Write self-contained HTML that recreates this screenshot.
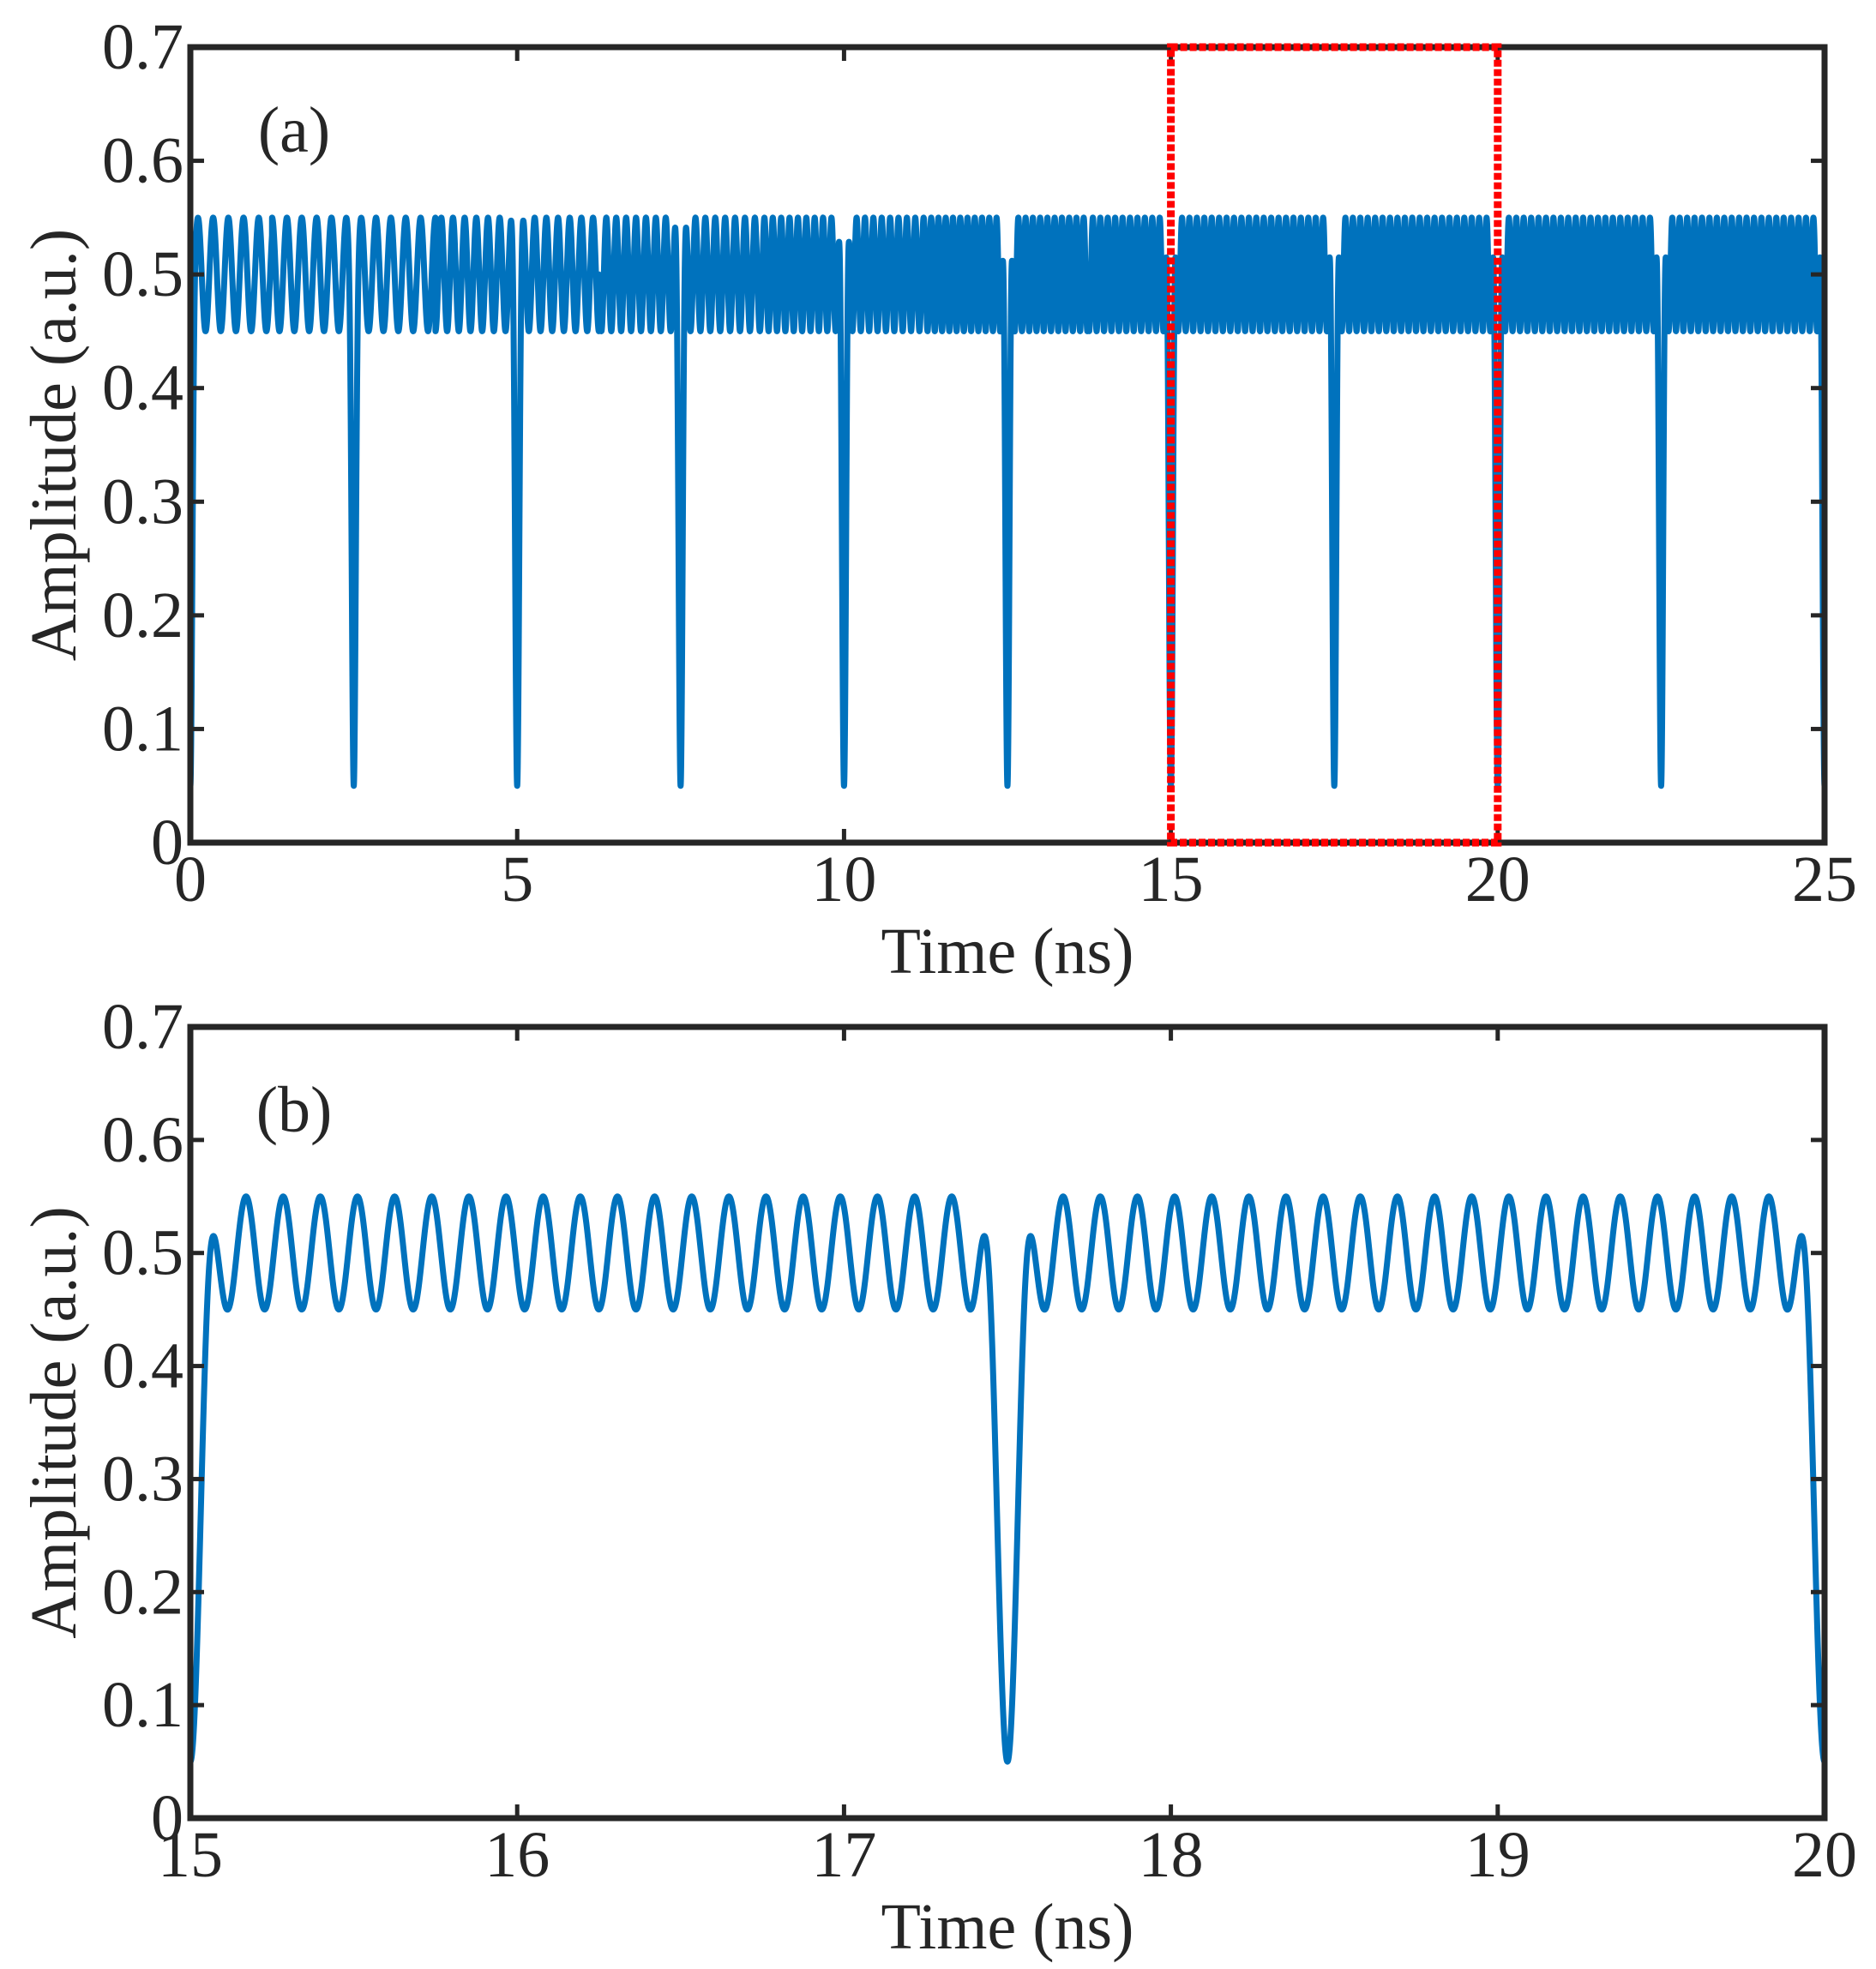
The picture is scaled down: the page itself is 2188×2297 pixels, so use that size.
<!DOCTYPE html>
<html><head><meta charset="utf-8"><style>
html,body{margin:0;padding:0;background:#fff}
svg{display:block}
text{font-family:"Liberation Serif","Times New Roman","Nimbus Roman","DejaVu Serif",serif;fill:#262626}
</style></head><body>
<svg id="fig" width="2188" height="2297" viewBox="0 0 2188 2297" xmlns="http://www.w3.org/2000/svg" font-family="Liberation Serif, Times New Roman, serif">
<rect width="2188" height="2297" fill="#fff"/>
</svg>
<script>
// ---- data ----
const yTicks = [0, 0.1, 0.2, 0.3, 0.4, 0.5, 0.6, 0.7];
const yTickLabels = ['0', '0.1', '0.2', '0.3', '0.4', '0.5', '0.6', '0.7'];
const xTicksA = [0, 5, 10, 15, 20, 25];
const xTicksB = [15, 16, 17, 18, 19, 20];
const dipTimes = [0, 2.5, 5, 7.5, 10, 12.5, 15, 17.5, 20, 22.5, 25];
const dipMin = 0.05;
const oscMean = 0.5;
const oscAmp = 0.05;
// apparent oscillation frequency (GHz) per 2.5 ns segment as seen in panel (a)
const segFreqA = [4.3, 4.4, 5.6, 6.6, 7.8, 9.0, 8.8, 8.8, 8.8, 8.8, 8.8];
const freqB = 8.8;
const zoomBox = [15, 20, 0, 0.7];

const NS = 'http://www.w3.org/2000/svg';
const svg = document.getElementById('fig');
function mk(tag, attrs, parent) {
  const e = document.createElementNS(NS, tag);
  for (const k in attrs) e.setAttribute(k, attrs[k]);
  (parent || svg).appendChild(e);
  return e;
}
function signal(t, f) {
  let nd = dipTimes[0];
  for (const d of dipTimes) if (Math.abs(t - d) < Math.abs(t - nd)) nd = d;
  const osc = oscMean - oscAmp * Math.cos(2 * Math.PI * f * (t - nd));
  const w = 0.04;
  const g = Math.exp(-Math.pow((t - nd) / w, 2));
  return osc * (1 - (1 - dipMin / (oscMean - oscAmp)) * g);
}
function panel(cfg) {
  const g = mk('g', {});
  
  
  const L = 222, R = 2128, T = cfg.top, B = cfg.bottom;
  const xs = v => L + (v - cfg.x0) / (cfg.x1 - cfg.x0) * (R - L);
  const ys = v => B - (v - 0) / 0.7 * (B - T);
  const pts = [];
  const N = cfg.samples;
  for (let i = 0; i <= N; i++) {
    const t = cfg.x0 + (cfg.x1 - cfg.x0) * i / N;
    const f = cfg.freq(t);
    pts.push(xs(t).toFixed(2) + ',' + ys(signal(t, f)).toFixed(2));
  }
  const clip = mk('clipPath', { id: cfg.name + '-clip' }, g);
  mk('rect', { x: L, y: T - 4, width: R - L, height: B - T + 8 }, clip);
  const line = mk('polyline', { points: pts.join(' '), fill: 'none', stroke: '#0072BD', 'stroke-width': 7, 'stroke-linejoin': 'round', 'clip-path': 'url(#' + cfg.name + '-clip)' }, g);
  
  
  for (const v of yTicks) {
    const y = ys(v);
    mk('line', { x1: L, x2: L + 16, y1: y, y2: y, stroke: '#262626', 'stroke-width': 5 }, g);
    mk('line', { x1: R, x2: R - 16, y1: y, y2: y, stroke: '#262626', 'stroke-width': 5 }, g);
  }
  cfg.xticks.forEach(v => {
    const x = xs(v);
    mk('line', { x1: x, x2: x, y1: B, y2: B - 16, stroke: '#262626', 'stroke-width': 5 }, g);
    mk('line', { x1: x, x2: x, y1: T, y2: T + 16, stroke: '#262626', 'stroke-width': 5 }, g);
  });
  const fr = mk('rect', { x: L, y: T, width: R - L, height: B - T, fill: 'none', stroke: '#262626', 'stroke-width': 7 }, g);
  
  
  if (cfg.box) {
    const bx = mk('rect', { x: xs(zoomBox[0]), y: ys(zoomBox[3]), width: xs(zoomBox[1]) - xs(zoomBox[0]), height: ys(zoomBox[2]) - ys(zoomBox[3]), fill: 'none', stroke: '#FF0000', 'stroke-width': 9, 'stroke-dasharray': '8 3', 'stroke-linecap': 'butt' }, g);
    
    
  }
  yTicks.forEach((v, i) => {
    const t = mk('text', { x: 214, y: ys(v) + 25, 'font-size': 76, 'text-anchor': 'end' }, g);
    t.textContent = yTickLabels[i];
    
    
  });
  cfg.xticks.forEach(v => {
    const t = mk('text', { x: xs(v), y: B + 68, 'font-size': 76, 'text-anchor': 'middle' }, g);
    t.textContent = String(v);
    
    
  });
  const xl = mk('text', { x: (L + R) / 2, y: B + 152, 'font-size': 76, 'text-anchor': 'middle' }, g);
  xl.textContent = 'Time (ns)';
  
  
  const cy = (T + B) / 2;
  const yl = mk('text', { x: 0, y: 0, 'font-size': 76, 'text-anchor': 'middle', transform: 'translate(88,' + cy + ') rotate(-90)' }, g);
  yl.textContent = 'Amplitude (a.u.)';
  
  
  const pl = mk('text', { x: 343, y: T + 122, 'font-size': 76, 'text-anchor': 'middle' }, g);
  pl.textContent = cfg.label;
  
  
}
panel({ name: 'panel-a', top: 55, bottom: 983, x0: 0, x1: 25, xticks: xTicksA, samples: 24000, box: true, label: '(a)',
  freq: t => segFreqA[Math.max(0, Math.min(segFreqA.length - 1, Math.floor((t + 1.25) / 2.5)))] });
panel({ name: 'panel-b', top: 1198, bottom: 2121, x0: 15, x1: 20, xticks: xTicksB, samples: 6000, box: false, label: '(b)',
  freq: t => freqB });
</script>
</body></html>
